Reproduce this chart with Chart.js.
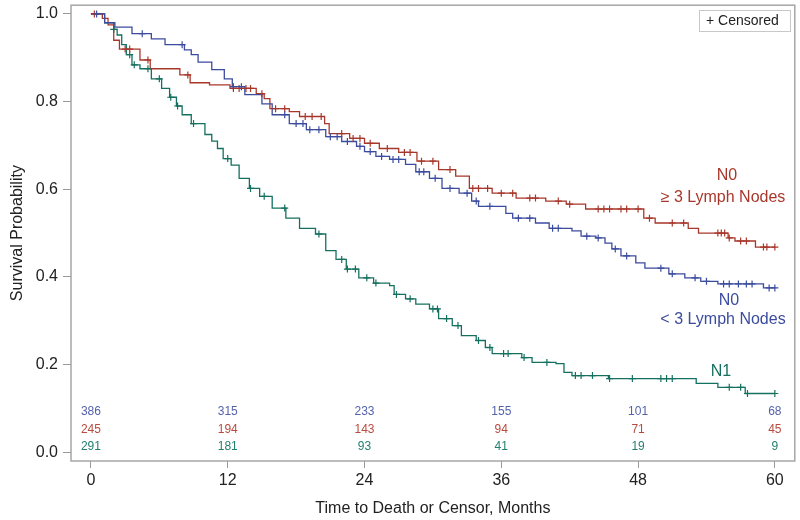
<!DOCTYPE html>
<html>
<head>
<meta charset="utf-8">
<script src="https://cdn.jsdelivr.net/npm/chart.js@4"></script>
<style>
  body { margin: 0; background: #fff; }
  #wrap { width: 800px; height: 520px; }
</style>
</head>
<body>
<div id="wrap"><canvas id="km"></canvas></div>
<script>
// step points: time (months) where the curve drops, survival after the drop
const lowTimes = [0, 1.2, 2.1, 3.6, 5.3, 6.5, 8.2, 8.8, 9.4, 10.6, 11.7, 12.4, 13.5, 15.0, 15.9, 17.4, 18.9, 20.6, 22.0, 23.3, 24.0, 25.0, 26.2, 27.6, 28.5, 29.7, 30.8, 32.3, 33.4, 34.0, 36.4, 37.0, 39.0, 40.2, 42.2, 43.0, 44.3, 45.1, 45.7, 46.5, 47.8, 48.6, 50.7, 52.1, 53.5, 55.0, 59.0, 60];
const lowSurv  = [1.0, 0.98, 0.97, 0.955, 0.943, 0.93, 0.918, 0.907, 0.89, 0.873, 0.852, 0.834, 0.816, 0.795, 0.77, 0.75, 0.736, 0.72, 0.709, 0.698, 0.686, 0.675, 0.668, 0.657, 0.64, 0.625, 0.602, 0.591, 0.573, 0.561, 0.545, 0.534, 0.523, 0.511, 0.505, 0.493, 0.489, 0.477, 0.464, 0.448, 0.432, 0.42, 0.407, 0.398, 0.39, 0.384, 0.375, 0.375];
const lowCensor = [0.5, 4.5, 8.0, 12.5, 13.2, 17.0, 18.0, 18.6, 19.2, 20.0, 21.0, 21.6, 22.5, 23.6, 24.5, 25.5, 26.5, 27.0, 28.8, 29.2, 30.2, 31.5, 33.0, 33.8, 35.0, 37.5, 38.5, 40.5, 41.0, 43.5, 44.5, 46.0, 47.0, 50.0, 51.0, 53.0, 54.0, 55.5, 56.0, 56.8, 57.5, 58.0, 59.5, 60];

const highTimes = [0, 1.0, 1.5, 2.0, 2.5, 4.3, 5.2, 7.8, 8.7, 10.4, 12.2, 14.5, 15.2, 15.7, 17.4, 18.3, 20.5, 20.9, 22.7, 24.0, 25.3, 27.0, 28.6, 30.5, 32.0, 33.2, 35.2, 37.3, 39.9, 41.7, 43.4, 48.5, 49.5, 52.4, 53.3, 55.9, 56.5, 58.3, 60];
const highSurv  = [1.0, 0.99, 0.975, 0.94, 0.92, 0.895, 0.875, 0.861, 0.843, 0.838, 0.83, 0.818, 0.807, 0.784, 0.777, 0.766, 0.75, 0.727, 0.716, 0.705, 0.693, 0.684, 0.664, 0.645, 0.63, 0.602, 0.591, 0.58, 0.573, 0.566, 0.555, 0.534, 0.523, 0.511, 0.5, 0.489, 0.482, 0.468, 0.468];
const highCensor = [0.3, 3.0, 3.4, 5.0, 8.5, 12.5, 13.0, 13.6, 14.0, 15.0, 16.2, 17.0, 18.8, 19.4, 20.2, 22.0, 23.0, 23.6, 24.5, 26.0, 27.5, 28.0, 29.0, 30.0, 31.5, 33.5, 34.0, 34.8, 36.0, 37.0, 38.5, 39.0, 41.0, 42.0, 44.5, 45.0, 45.5, 46.5, 47.0, 48.0, 49.0, 51.0, 52.0, 55.0, 55.3, 55.6, 56.0, 57.0, 57.5, 59.0, 59.3, 60];

const n1Times = [0, 1.2, 2.0, 2.3, 2.7, 3.1, 3.6, 4.3, 5.3, 6.2, 6.9, 7.5, 8.0, 8.8, 10.0, 10.6, 11.1, 11.6, 12.3, 13.0, 13.9, 14.8, 15.9, 17.1, 18.3, 19.7, 20.6, 21.5, 22.4, 23.5, 24.8, 26.2, 26.6, 27.6, 28.5, 29.7, 30.5, 31.7, 32.5, 33.8, 34.6, 35.2, 37.8, 38.7, 40.8, 41.5, 42.2, 45.4, 53.1, 55.0, 57.4, 60];
const n1Surv  = [1.0, 0.98, 0.965, 0.952, 0.93, 0.907, 0.884, 0.875, 0.852, 0.83, 0.81, 0.79, 0.77, 0.75, 0.725, 0.71, 0.693, 0.67, 0.655, 0.625, 0.602, 0.584, 0.557, 0.534, 0.511, 0.498, 0.46, 0.44, 0.418, 0.398, 0.386, 0.38, 0.36, 0.35, 0.338, 0.327, 0.305, 0.289, 0.266, 0.255, 0.239, 0.225, 0.216, 0.205, 0.202, 0.182, 0.175, 0.168, 0.157, 0.148, 0.134, 0.134];
const n1Censor = [2.0, 3.4, 3.8, 5.0, 6.0, 7.0, 7.6, 9.0, 12.0, 14.0, 15.2, 17.0, 20.0, 22.0, 22.5, 23.2, 24.2, 25.0, 26.8, 28.0, 30.0, 30.4, 31.2, 32.2, 34.0, 35.0, 36.2, 36.6, 38.0, 40.0, 42.5, 43.0, 44.0, 45.5, 47.5, 50.0, 50.5, 51.0, 56.0, 57.0, 57.6, 60];

const atRiskMonths = [0, 12, 24, 36, 48, 60];
const atRiskLow  = [386, 315, 233, 155, 101, 68];
const atRiskHigh = [245, 194, 143, 94, 71, 45];
const atRiskN1   = [291, 181, 93, 41, 19, 9];

const xTicks = [0, 12, 24, 36, 48, 60];
const yTicks = [0, 0.2, 0.4, 0.6, 0.8, 1.0];

const BLUE = "#3b4b9e", RED = "#a8372b", GREEN = "#14705f";
const FONT = "'Liberation Sans', Arial, sans-serif";

function steps(times, surv) {
    return times.map((t, i) => ({x: t, y: surv[i]}));
}

// survival at time t (value of last drop at or before t)
function survAt(times, surv, t) {
    let v = surv[0];
    for (let i = 0; i < times.length; i++) {
        if (times[i] <= t) v = surv[i];
    }
    return v;
}

function marks(cens, times, surv) {
    return cens.map(t => ({x: t, y: survAt(times, surv, t)}));
}

function lineSet(data, color) {
    return {type: "line", data, borderColor: color, borderWidth: 1.3, stepped: "before",
            pointRadius: 0, fill: false, order: 2};
}

function markSet(data, color) {
    return {type: "scatter", data, borderColor: color, backgroundColor: color, pointStyle: "cross",
            pointRadius: 3.5, borderWidth: 1.2, order: 1};
}

const extras = {
    id: "extras",
    afterDraw(chart) {
        const {ctx, chartArea: a, scales: {x, y}} = chart;
        ctx.save();
        // frame
        ctx.strokeStyle = "#a6a6a6";
        ctx.lineWidth = 1.5;
        ctx.strokeRect(a.left, a.top, a.right - a.left, a.bottom - a.top);

        // numbers at risk
        ctx.font = "12px " + FONT;
        ctx.textAlign = "center";
        ctx.textBaseline = "middle";
        const rows = [[atRiskLow, "#5563ac", 0.092], [atRiskHigh, "#b94a3e", 0.052], [atRiskN1, "#24806e", 0.012]];
        rows.forEach(([vals, col, yv]) => {
            ctx.fillStyle = col;
            vals.forEach((n, i) => ctx.fillText(n, x.getPixelForValue(atRiskMonths[i]), y.getPixelForValue(yv)));
        });

        // curve labels
        ctx.font = "16px " + FONT;
        ctx.fillStyle = RED;
        ctx.fillText("N0", 727, y.getPixelForValue(0.631));
        ctx.fillText("\u2265 3 Lymph Nodes", 723, y.getPixelForValue(0.58));
        ctx.fillStyle = BLUE;
        ctx.fillText("N0", 729, y.getPixelForValue(0.347));
        ctx.fillText("< 3 Lymph Nodes", 723, y.getPixelForValue(0.302));
        ctx.fillStyle = GREEN;
        ctx.fillText("N1", 721, y.getPixelForValue(0.183));

        // legend box
        ctx.fillStyle = "#fff";
        ctx.strokeStyle = "#c8c8c8";
        ctx.lineWidth = 1;
        ctx.fillRect(699.5, 10.5, 91, 21);
        ctx.strokeRect(699.5, 10.5, 91, 21);
        ctx.fillStyle = "#222";
        ctx.font = "14px " + FONT;
        ctx.textAlign = "left";
        ctx.fillText("+ Censored", 706, 21);
        ctx.restore();
    }
};

new Chart("km", {
    data: {
        datasets: [
            lineSet(steps(lowTimes, lowSurv), BLUE),
            lineSet(steps(highTimes, highSurv), RED),
            lineSet(steps(n1Times, n1Surv), GREEN),
            markSet(marks(lowCensor, lowTimes, lowSurv), BLUE),
            markSet(marks(highCensor, highTimes, highSurv), RED),
            markSet(marks(n1Censor, n1Times, n1Surv), GREEN)
        ]
    },
    options: {
        responsive: true,
        maintainAspectRatio: false,
        animation: false,
        layout: {padding: {top: 3, right: 2, left: 0, bottom: 0}},
        plugins: {legend: {display: false}, tooltip: {enabled: false}},
        scales: {
            x: {
                type: "linear",
                min: -1.75, max: 61.75,
                afterBuildTicks: s => { s.ticks = xTicks.map(v => ({value: v})); },
                afterFit: s => { s.height = 59; s.paddingLeft = 0; s.paddingRight = 0; },
                grid: {drawOnChartArea: false, tickLength: 7, color: "#999"},
                border: {display: false},
                ticks: {color: "#222", font: {family: FONT, size: 16}, padding: 3},
                title: {display: true, text: "Time to Death or Censor, Months", color: "#222",
                        font: {family: FONT, size: 16}, padding: {top: 0, bottom: 2}}
            },
            y: {
                type: "linear",
                min: -0.02, max: 1.02,
                afterBuildTicks: s => { s.ticks = yTicks.map(v => ({value: v})); },
                afterFit: s => { s.width = 71; s.paddingTop = 0; s.paddingBottom = 0; },
                grid: {drawOnChartArea: false, tickLength: 8, color: "#999"},
                border: {display: false},
                ticks: {color: "#222", font: {family: FONT, size: 16}, padding: 5,
                        callback: v => v.toFixed(1)},
                title: {display: true, text: "Survival Probability", color: "#222",
                        font: {family: FONT, size: 16}, padding: {top: 8, bottom: 0}}
            }
        }
    },
    plugins: [extras]
});
</script>
</body>
</html>
